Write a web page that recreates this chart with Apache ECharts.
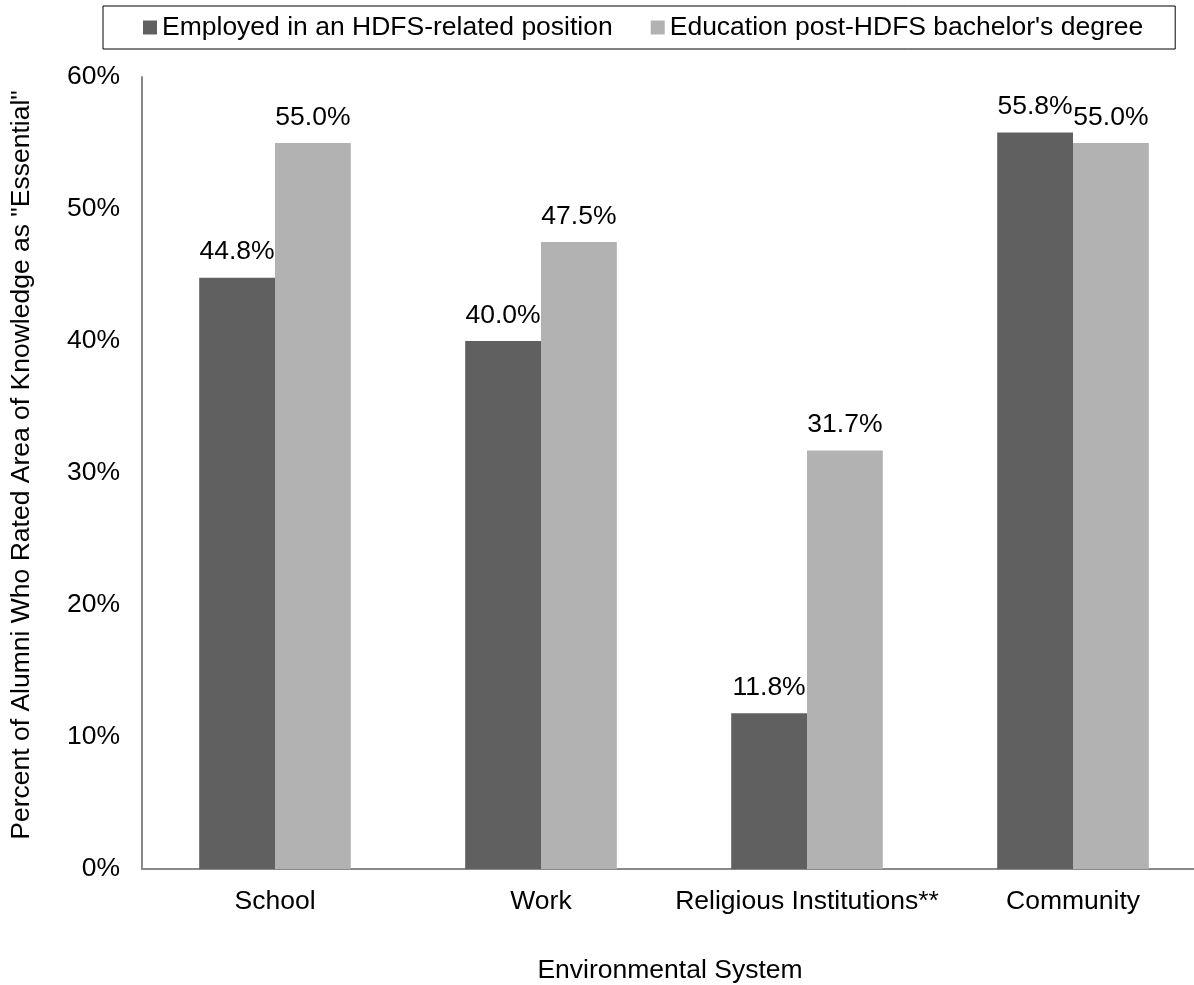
<!DOCTYPE html>
<html>
<head>
<meta charset="utf-8">
<script src="https://cdn.jsdelivr.net/npm/echarts@6/dist/echarts.min.js"></script>
<style>
    html, body { margin: 0; padding: 0; background: #fff; }
    #chart { width: 1194px; height: 985px; }
</style>
</head>
<body>
<div id="chart"></div>
<script>
// data
const categories = ['School', 'Work', 'Religious Institutions**', 'Community']
const employed = [44.8, 40.0, 11.8, 55.8]
const education = [55.0, 47.5, 31.7, 55.0]
const seriesNames = ['Employed in an HDFS-related position', "Education post-HDFS bachelor's degree"]
const yTicks = [0, 10, 20, 30, 40, 50, 60]

const FONT = 'Liberation Sans, Arial, sans-serif'
const FS = 26.5

const chart = echarts.init(document.getElementById('chart'))

const labelStyle = {
    show: true,
    position: 'top',
    distance: 12,
    color: '#000',
    fontFamily: FONT,
    fontSize: FS,
    formatter: (p) => p.value.toFixed(1) + '%'
}

const option = {
    animation: false,
    backgroundColor: '#fff',
    textStyle: { fontFamily: FONT, color: '#000' },
    legend: {
        left: 103,
        top: 6,
        padding: [8, 32, 8, 40],
        borderColor: '#000',
        borderWidth: 1,
        itemGap: 38,
        itemWidth: 14,
        itemHeight: 14,
        icon: 'rect',
        textStyle: { fontFamily: FONT, fontSize: FS, color: '#000' },
        data: seriesNames
    },
    grid: {
        left: 142,
        width: 1064,
        top: 77,
        bottom: 116,
        containLabel: false,
        outerBoundsMode: 'none'
    },
    xAxis: {
        type: 'category',
        data: categories,
        name: 'Environmental System',
        nameLocation: 'middle',
        nameGap: 88,
        nameTextStyle: { fontFamily: FONT, fontSize: FS, color: '#000', verticalAlign: 'top', padding: [0, 8, 0, 0] },
        axisLine: { lineStyle: { color: '#898989', width: 2 } },
        axisTick: { show: false },
        axisLabel: { fontFamily: FONT, fontSize: FS, color: '#000', margin: 19, interval: 0 }
    },
    yAxis: {
        type: 'value',
        min: yTicks[0],
        max: yTicks[yTicks.length - 1],
        interval: yTicks[1] - yTicks[0],
        name: 'Percent of Alumni Who Rated Area of Knowledge as "Essential"',
        nameLocation: 'middle',
        nameGap: 107,
        nameTextStyle: { fontFamily: FONT, fontSize: FS, color: '#000', padding: [0, 0, 0, 16] },
        axisLine: { show: true, lineStyle: { color: '#898989', width: 2 } },
        axisTick: { show: false },
        splitLine: { show: false },
        axisLabel: { fontFamily: FONT, fontSize: FS, color: '#000', margin: 22, formatter: '{value}%' }
    },
    series: [
        {
            name: seriesNames[0],
            type: 'bar',
            data: employed,
            barGap: 0,
            barCategoryGap: '43%',
            itemStyle: { color: '#606060' },
            label: labelStyle
        },
        {
            name: seriesNames[1],
            type: 'bar',
            data: education,
            barGap: 0,
            barCategoryGap: '43%',
            itemStyle: { color: '#b2b2b2' },
            label: labelStyle
        }
    ]
}

chart.setOption(option)
</script>
</body>
</html>
